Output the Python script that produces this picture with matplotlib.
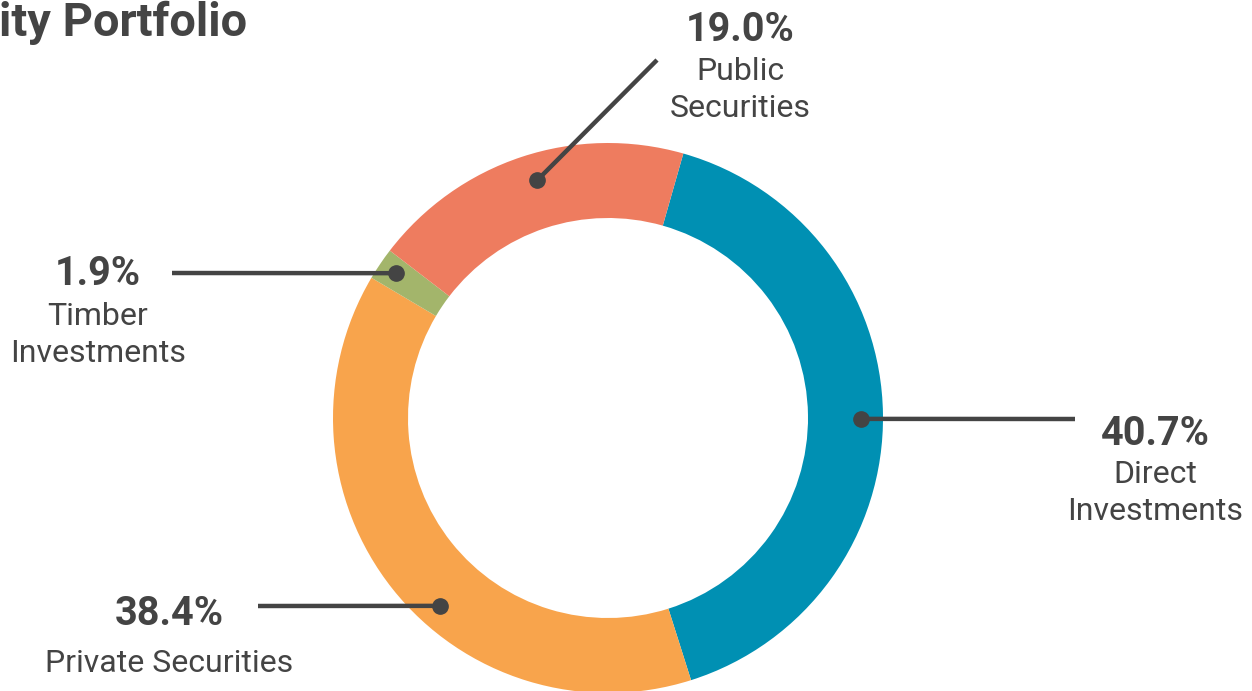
import numpy as np
import matplotlib
matplotlib.use("Agg")
from matplotlib import pyplot as plt

# data
categories = ["Direct\nInvestments", "Private Securities", "Timber\nInvestments", "Public\nSecurities"]
shares = [40.7, 38.4, 1.9, 19.0]
colors = ["#0090b3", "#f8a44c", "#a3b56b", "#ee7c5f"]

W, H = 1252, 691
TXT = "#444444"

plt.rcParams["font.family"] = ["Roboto", "DejaVu Sans"]

fig = plt.figure(figsize=(W / 100, H / 100), dpi=100)
ax = fig.add_axes([0, 0, 1, 1])

cx, cy = 608, H - 418
R, RING = 275, 75
START = 15.9  # degrees clockwise from 12 o'clock

ax.pie(shares, colors=colors, startangle=90 - START, counterclock=False,
       radius=R, center=(cx, cy), wedgeprops=dict(width=RING, linewidth=0))
ax.set_xlim(0, W)
ax.set_ylim(0, H)
ax.set_aspect("equal")
ax.axis("off")

# label layout: dot angle (clockwise from top), dot radius, line end, text x, baselines (image px)
layout = [
    dict(ang=90.2, r=253, end=(1075, 419), tx=1155, base=[445, 483, 520]),
    dict(ang=221.8, r=252, end=(258, 606), tx=169, base=[625, 672]),
    dict(ang=304.3, r=257, end=(172, 273), tx=98, base=[285, 325, 362]),
    dict(ang=343.4, r=248, end=(657, 60), tx=740, base=[41, 80, 117]),
]

for name, val, lay in zip(categories, shares, layout):
    a = np.radians(lay["ang"])
    dx = cx + lay["r"] * np.sin(a)
    dy = cy + lay["r"] * np.cos(a)
    ex, ey = lay["end"][0], H - lay["end"][1]
    ax.plot([dx, ex], [dy, ey], color=TXT, lw=3.2, solid_capstyle="butt", zorder=5)
    ax.plot([dx], [dy], "o", color=TXT, ms=11, zorder=6)
    ax.text(lay["tx"], H - lay["base"][0], f"{val:.1f}%", ha="center", va="baseline",
            fontsize=28.5, fontweight="bold", color=TXT)
    for line, b in zip(name.split("\n"), lay["base"][1:]):
        ax.text(lay["tx"], H - b, line, ha="center", va="baseline",
                fontsize=23, color=TXT)

ax.text(-1, H - 36, "ity Portfolio", ha="left", va="baseline",
        fontsize=33.8, fontweight="bold", color=TXT)

fig.savefig("out.png", dpi=100, facecolor="white")
